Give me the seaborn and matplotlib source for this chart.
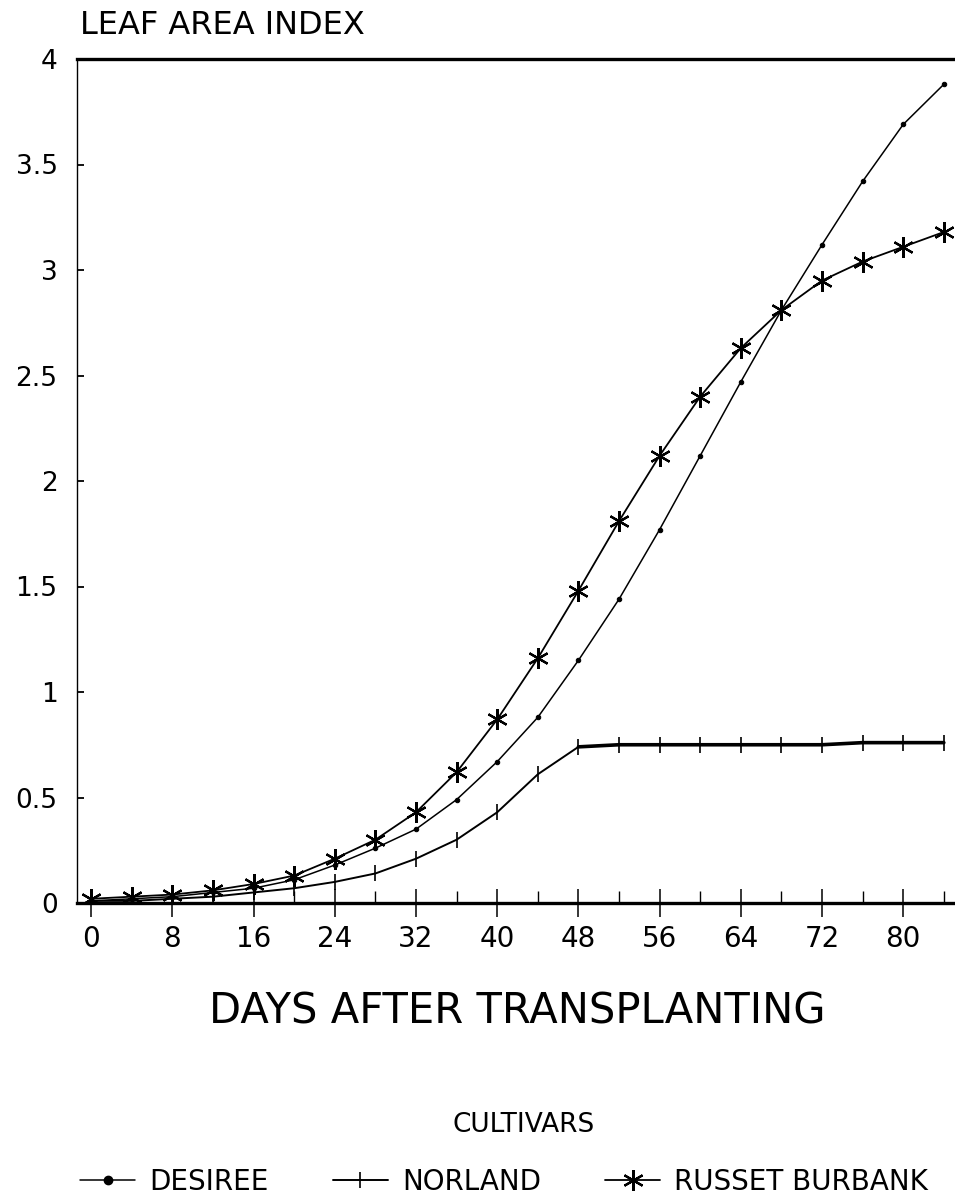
import matplotlib
matplotlib.use('Agg')
import matplotlib.pyplot as plt
from matplotlib.lines import Line2D
from matplotlib.ticker import MultipleLocator
import numpy as np
import pandas as pd
import seaborn as sns

# Leaf area index of three potato cultivars
days = [0, 4, 8, 12, 16, 20, 24, 28, 32, 36, 40, 44,
        48, 52, 56, 60, 64, 68, 72, 76, 80, 84]
desiree = [0.01, 0.02, 0.03, 0.05, 0.07, 0.11, 0.18, 0.26, 0.35, 0.49, 0.67, 0.88,
           1.15, 1.44, 1.77, 2.12, 2.47, 2.81, 3.12, 3.42, 3.69, 3.88]
norland = [0.01, 0.01, 0.02, 0.03, 0.05, 0.07, 0.10, 0.14, 0.21, 0.30, 0.43, 0.61,
           0.74, 0.75, 0.75, 0.75, 0.75, 0.75, 0.75, 0.76, 0.76, 0.76]
russet = [0.02, 0.03, 0.04, 0.06, 0.09, 0.13, 0.21, 0.30, 0.43, 0.62, 0.87, 1.16,
          1.48, 1.81, 2.12, 2.40, 2.63, 2.81, 2.95, 3.04, 3.11, 3.18]
cultivars = ['DESIREE', 'NORLAND', 'RUSSET BURBANK']
x_ticks = [0, 8, 16, 24, 32, 40, 48, 56, 64, 72, 80]
y_ticks = [0, 0.5, 1, 1.5, 2, 2.5, 3, 3.5, 4]
y_ticklabels = ['0', '0.5', '1', '1.5', '2', '2.5', '3', '3.5', '4']

df = pd.DataFrame({
    'day': days * 3,
    'lai': desiree + norland + russet,
    'cultivar': np.repeat(cultivars, len(days)),
})

sns.set_style('ticks')
plt.rcParams['font.family'] = ['DejaVu Sans']
plt.rcParams.update({'text.color': 'black', 'xtick.color': 'black',
                     'ytick.color': 'black', 'axes.edgecolor': 'black'})

fig = plt.figure(figsize=(9.55, 12.02), dpi=100)
ax = fig.add_axes([77 / 955, 1 - 903 / 1202, 878 / 955, (903 - 59) / 1202])

# marker / line styling per cultivar
styles = {
    'DESIREE': dict(marker='o', markersize=3.2, linewidth=1.1),
    'NORLAND': dict(marker='|', markersize=12, markeredgewidth=1.2, linewidth=1.4),
    'RUSSET BURBANK': dict(marker=(6, 2, 0), markersize=15, markeredgewidth=1.6, linewidth=1.3),
}
for name in cultivars:
    sub = df[df['cultivar'] == name]
    sns.lineplot(data=sub, x='day', y='lai', color='black', ax=ax,
                 markeredgecolor='black', markerfacecolor='black',
                 legend=False, **styles[name])

# Norland's plateau is drawn with a heavier stroke in the original
plateau = df[(df['cultivar'] == 'NORLAND') & (df['day'] >= 48)]
sns.lineplot(data=plateau, x='day', y='lai', color='black', linewidth=2.6,
             ax=ax, legend=False)

ax.set_xlim(-1.4, 85.1)
ax.set_ylim(0, 4)
ax.set_xticks(x_ticks)
ax.set_xticklabels([str(t) for t in x_ticks])
ax.xaxis.set_minor_locator(MultipleLocator(4))
ax.set_yticks(y_ticks)
ax.set_yticklabels(y_ticklabels)
ax.set_xlabel('')
ax.set_ylabel('')

ax.tick_params(axis='y', which='major', direction='in', length=5, width=1.3,
               labelsize=19, pad=14)
ax.tick_params(axis='x', which='major', direction='inout', length=20, width=1.1,
               labelsize=20, pad=6)
ax.tick_params(axis='x', which='minor', direction='in', length=9, width=1.0)

ax.spines['right'].set_visible(False)
ax.spines['top'].set_linewidth(2.4)
ax.spines['bottom'].set_linewidth(2.4)
ax.spines['left'].set_linewidth(1.0)

fig.text(80 / 955, 1 - 25 / 1202, 'LEAF AREA INDEX', fontsize=23,
         ha='left', va='center')
fig.text(517 / 955, 1 - 1012 / 1202, 'DAYS AFTER TRANSPLANTING', fontsize=30,
         ha='center', va='center')
fig.text(524 / 955, 1 - 1125 / 1202, 'CULTIVARS', fontsize=19,
         ha='center', va='center')

handles = [Line2D([], [], color='black', **styles[name]) for name in cultivars]
handles[0].set_markersize(6)
leg = fig.legend(handles, cultivars, loc='center', ncol=3, frameon=False,
                 bbox_to_anchor=(504 / 955, 1 - 1182 / 1202),
                 fontsize=20, handlelength=2.0, handletextpad=0.5,
                 columnspacing=2.3)

fig.savefig('out.png', dpi=100)
plt.close(fig)
